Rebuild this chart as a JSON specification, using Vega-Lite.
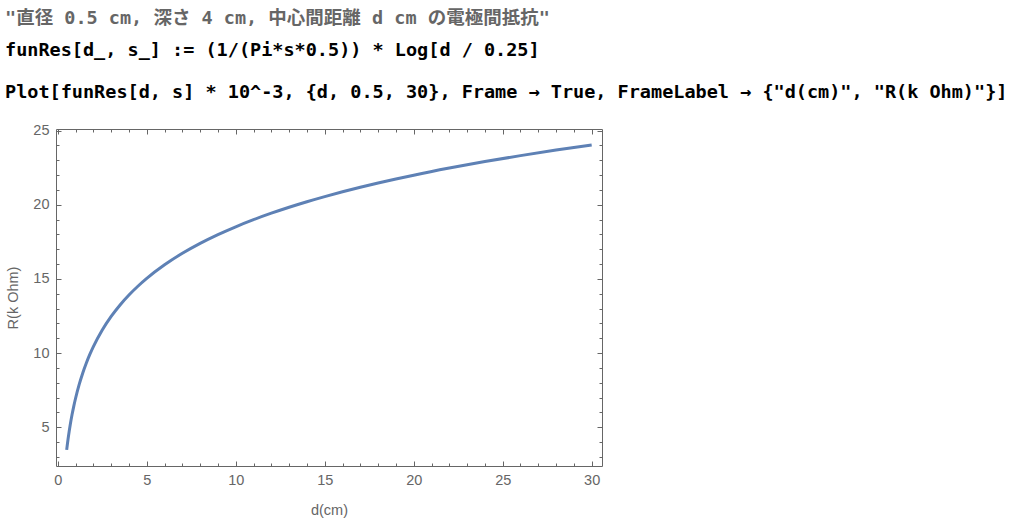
{
  "$schema": "https://vega.github.io/schema/vega-lite/v6.json",
  "width": 546,
  "height": 337,
  "autosize": {"type": "none"},
  "padding": {"left": 56, "top": 129, "right": 428, "bottom": 64},
  "background": "white",
  "title": {
    "text": "\"直径 0.5 cm, 深さ 4 cm, 中心間距離 d cm の電極間抵抗\"",
    "subtitle": ["funRes[d_, s_] := (1/(Pi*s*0.5)) * Log[d / 0.25]", "Plot[funRes[d, s] * 10^-3, {d, 0.5, 30}, Frame → True, FrameLabel → {\"d(cm)\", \"R(k Ohm)\"}]"],
    "anchor": "start",
    "frame": "group",
    "dx": -51,
    "font": "DejaVu Sans Mono, Noto Sans CJK JP",
    "fontSize": 18.5,
    "fontWeight": "bold",
    "color": "#666666",
    "subtitleFont": "DejaVu Sans Mono, Noto Sans CJK JP",
    "subtitleFontSize": 18.5,
    "subtitleFontWeight": "bold",
    "subtitleColor": "#000000",
    "subtitleLineHeight": 42,
    "subtitlePadding": 14,
    "offset": 21
  },
  "data": {"values": [
    {"d": 0.5, "R": 3.480}, {"d": 0.6, "R": 4.395}, {"d": 0.7, "R": 5.169}, {"d": 0.8, "R": 5.839},
    {"d": 0.9, "R": 6.430}, {"d": 1.0, "R": 6.959}, {"d": 1.2, "R": 7.874}, {"d": 1.4, "R": 8.648},
    {"d": 1.6, "R": 9.319}, {"d": 1.8, "R": 9.910}, {"d": 2.0, "R": 10.439}, {"d": 2.5, "R": 11.559},
    {"d": 3, "R": 12.474}, {"d": 3.5, "R": 13.248}, {"d": 4, "R": 13.918}, {"d": 4.5, "R": 14.510},
    {"d": 5, "R": 15.039}, {"d": 6, "R": 15.954}, {"d": 7, "R": 16.728}, {"d": 8, "R": 17.398},
    {"d": 9, "R": 17.989}, {"d": 10, "R": 18.518}, {"d": 11, "R": 18.997}, {"d": 12, "R": 19.433},
    {"d": 13, "R": 19.835}, {"d": 14, "R": 20.207}, {"d": 15, "R": 20.554}, {"d": 16, "R": 20.878},
    {"d": 17, "R": 21.182}, {"d": 18, "R": 21.469}, {"d": 19, "R": 21.740}, {"d": 20, "R": 21.998},
    {"d": 22, "R": 22.476}, {"d": 24, "R": 22.913}, {"d": 26, "R": 23.315}, {"d": 28, "R": 23.687},
    {"d": 30, "R": 24.033}
  ]},
  "config": {
    "view": {"stroke": null},
    "axis": {
      "grid": false,
      "domainColor": "#666666",
      "domainWidth": 1,
      "tickColor": "#666666",
      "tickWidth": 1,
      "labelFont": "Liberation Sans",
      "labelFontSize": 14.5,
      "labelColor": "#666666",
      "titleFont": "Liberation Sans",
      "titleFontSize": 14.5,
      "titleFontWeight": "normal",
      "titleColor": "#666666"
    }
  },
  "resolve": {"axis": {"x": "independent", "y": "independent"}, "scale": {"x": "shared", "y": "shared"}},
  "layer": [
    {
      "mark": {"type": "line", "interpolate": "monotone", "color": "#5E81B5", "strokeWidth": 3},
      "encoding": {
        "x": {"field": "d", "type": "quantitative",
          "scale": {"domain": [-0.1, 30.58], "nice": false, "zero": false},
          "axis": {"orient": "bottom", "values": [0, 5, 10, 15, 20, 25, 30], "tickSize": -5, "labelPadding": 12, "title": "d(cm)", "titlePadding": 17, "labelFlush": false}},
        "y": {"field": "R", "type": "quantitative",
          "scale": {"domain": [2.39, 25.11], "nice": false, "zero": false},
          "axis": {"orient": "left", "values": [5, 10, 15, 20, 25], "tickSize": -5, "labelPadding": 12, "title": "R(k Ohm)", "titlePadding": 12, "labelFlush": false}}
      }
    },
    {
      "mark": {"type": "line", "opacity": 0},
      "encoding": {
        "x": {"field": "d", "type": "quantitative",
          "scale": {"domain": [-0.1, 30.58], "nice": false, "zero": false},
          "axis": {"orient": "bottom", "values": [1,2,3,4,6,7,8,9,11,12,13,14,16,17,18,19,21,22,23,24,26,27,28,29], "tickSize": -3, "labels": false, "domain": false, "title": null}},
        "y": {"field": "R", "type": "quantitative",
          "scale": {"domain": [2.39, 25.11], "nice": false, "zero": false},
          "axis": {"orient": "left", "values": [3,4,6,7,8,9,11,12,13,14,16,17,18,19,21,22,23,24], "tickSize": -3, "labels": false, "domain": false, "title": null}}
      }
    },
    {
      "mark": {"type": "line", "opacity": 0},
      "encoding": {
        "x": {"field": "d", "type": "quantitative",
          "scale": {"domain": [-0.1, 30.58], "nice": false, "zero": false},
          "axis": {"orient": "top", "values": [0, 5, 10, 15, 20, 25, 30], "tickSize": -5, "labels": false, "title": null}},
        "y": {"field": "R", "type": "quantitative",
          "scale": {"domain": [2.39, 25.11], "nice": false, "zero": false},
          "axis": {"orient": "right", "values": [5, 10, 15, 20, 25], "tickSize": -5, "labels": false, "title": null}}
      }
    },
    {
      "mark": {"type": "line", "opacity": 0},
      "encoding": {
        "x": {"field": "d", "type": "quantitative",
          "scale": {"domain": [-0.1, 30.58], "nice": false, "zero": false},
          "axis": {"orient": "top", "values": [1,2,3,4,6,7,8,9,11,12,13,14,16,17,18,19,21,22,23,24,26,27,28,29], "tickSize": -3, "labels": false, "domain": false, "title": null}},
        "y": {"field": "R", "type": "quantitative",
          "scale": {"domain": [2.39, 25.11], "nice": false, "zero": false},
          "axis": {"orient": "right", "values": [3,4,6,7,8,9,11,12,13,14,16,17,18,19,21,22,23,24], "tickSize": -3, "labels": false, "domain": false, "title": null}}
      }
    }
  ]
}
